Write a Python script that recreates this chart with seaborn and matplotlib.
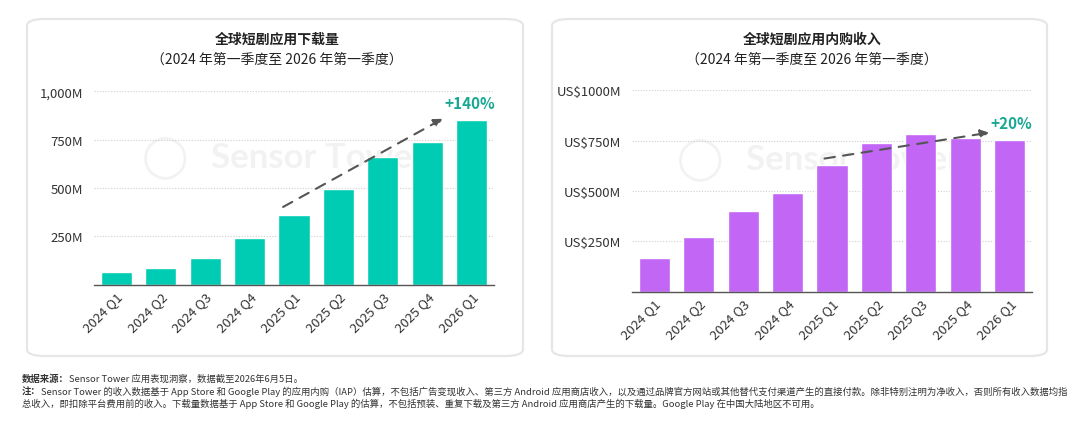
import matplotlib
matplotlib.use("Agg")
import matplotlib.pyplot as plt
import seaborn as sns
import pandas as pd
from matplotlib.patches import FancyBboxPatch

# ---- data ----
quarters = ["2024 Q1", "2024 Q2", "2024 Q3", "2024 Q4", "2025 Q1",
            "2025 Q2", "2025 Q3", "2025 Q4", "2026 Q1"]
downloads_m = [64, 84, 136, 239, 359, 497, 661, 737, 854]
revenue_m = [166, 270, 399, 490, 629, 738, 783, 765, 753]
dl_ticks = [250, 500, 750, 1000]
dl_tick_labels = ["250M", "500M", "750M", "1,000M"]
rev_ticks = [250, 500, 750, 1000]
rev_tick_labels = ["US$250M", "US$500M", "US$750M", "US$1000M"]
dl_growth = "+140%"
rev_growth = "+20%"
left_title = "全球短剧应用下载量"
right_title = "全球短剧应用内购收入"
subtitle = "（2024 年第一季度至 2026 年第一季度）"

sns.set_style("white")
plt.rcParams['font.family'] = ['Noto Sans CJK SC', 'DejaVu Sans']

W, H = 1080, 427
fig = plt.figure(figsize=(W / 100, H / 100), dpi=100)
fig.patch.set_facecolor("white")

def card(x0, y0, x1, y1):
    p = FancyBboxPatch((x0 / W, 1 - y1 / H), (x1 - x0) / W, (y1 - y0) / H,
                       boxstyle="round,pad=0,rounding_size=0.016",
                       transform=fig.transFigure, facecolor="white",
                       edgecolor="#E6E6E6", linewidth=1.6, zorder=-10)
    fig.patches.append(p)

card(27, 20, 523, 357)
card(552, 20, 1047, 357)

# faint watermark (figure coords in px)
for lx, tx, ty in [(165, 318, 158), (700, 853, 160)]:
    fig.text(lx / W, 1 - ty / H, "◯", fontsize=30, color="#F2F2F2",
             ha="center", va="center", zorder=-5,
             family=["DejaVu Sans"])
    fig.text(tx / W, 1 - ty / H, "Sensor Tower", fontsize=25,
             fontweight="bold", color="#F2F2F2", ha="center", va="center",
             zorder=-5, family=["Lato", "DejaVu Sans"])

TEAL = "#00CCB3"
PURPLE = "#C266F6"
LABEL = "#17A893"

def draw(ax, values, color, ticks, labels, arrow, growth_pos, growth):
    df = pd.DataFrame({"q": quarters, "v": values})
    sns.barplot(data=df, x="q", y="v", color=color, width=0.7,
                saturation=1, ax=ax, zorder=3)
    ax.set_ylim(0, 1000)
    ax.set_xlim(-0.5, 8.5)
    ax.set_yticks(ticks)
    ax.set_yticklabels(labels, fontsize=9.5, color="#333333")
    ax.set_xlabel("")
    ax.set_ylabel("")
    ax.tick_params(axis="y", length=0, pad=8)
    ax.tick_params(axis="x", length=0, pad=4)
    plt.setp(ax.get_xticklabels(), rotation=45, ha="right",
             rotation_mode="anchor", fontsize=9.5, color="#333333")
    for t in ticks:
        ax.axhline(t, color="#CFCFCF", linestyle=(0, (1, 1.5)),
                   linewidth=0.8, zorder=1)
    for s in ["top", "right", "left"]:
        ax.spines[s].set_visible(False)
    ax.spines["bottom"].set_color("#555555")
    ax.spines["bottom"].set_linewidth(1.0)
    ax.spines["bottom"].set_zorder(4)
    ax.set_facecolor("none")
    (x0, y0), (x1, y1) = arrow
    ax.annotate("", xy=(x1, y1), xytext=(x0, y0),
                arrowprops=dict(arrowstyle="-|>", color="#555555", lw=1.5,
                                linestyle=(0, (5, 4)), mutation_scale=13),
                annotation_clip=False, zorder=5)
    ax.text(growth_pos[0], growth_pos[1], growth, color=LABEL, fontsize=11,
            fontweight="bold", ha="center", va="center", zorder=6,
            clip_on=False)
    ax.grid(False)

axL = fig.add_axes([94 / W, 1 - 285.7 / H, 400 / W, (285.7 - 92.3) / H])
axR = fig.add_axes([632 / W, 1 - 292.7 / H, 400 / W, (292.7 - 91.3) / H])

draw(axL, downloads_m, TEAL, dl_ticks, dl_tick_labels,
     ((3.7, 395), (7.4, 865)), (7.95, 942), dl_growth)
draw(axR, revenue_m, PURPLE, rev_ticks, rev_tick_labels,
     ((3.77, 659), (7.6, 792)), (8.03, 838), rev_growth)

# titles
for cx, t in [(277 / W, left_title), (812 / W, right_title)]:
    fig.text(cx, 1 - 40 / H, t, ha="center", va="center", fontsize=10,
             fontweight="bold", color="#222222")
    fig.text(cx, 1 - 60 / H, subtitle, ha="center", va="center",
             fontsize=10, color="#222222")

# footer
FS = 6.75
fx = 22 / W
renderer = fig.canvas.get_renderer()

def pair(y, bold, rest):
    b = fig.text(fx, 1 - y / H, bold, fontsize=FS, fontweight="bold",
                 color="#333333", va="center", ha="left")
    ext = b.get_window_extent(renderer=renderer)
    fig.text(ext.x1 / W, 1 - y / H, rest, fontsize=FS, color="#333333",
             va="center", ha="left")

pair(379, "数据来源：", "Sensor Tower 应用表现洞察，数据截至2026年6月5日。")
pair(391.5, "注：",
     "Sensor Tower 的收入数据基于 App Store 和 Google Play 的应用内购（IAP）估算，不包括广告变现收入、第三方 Android 应用商店收入，以及通过品牌官方网站或其他替代支付渠道产生的直接付款。除非特别注明为净收入，否则所有收入数据均指")
fig.text(fx, 1 - 403.5 / H,
         "总收入，即扣除平台费用前的收入。下载量数据基于 App Store 和 Google Play 的估算，不包括预装、重复下载及第三方 Android 应用商店产生的下载量。Google Play 在中国大陆地区不可用。",
         fontsize=FS, color="#333333", va="center", ha="left")

fig.savefig("out.png", dpi=100, facecolor="white")
